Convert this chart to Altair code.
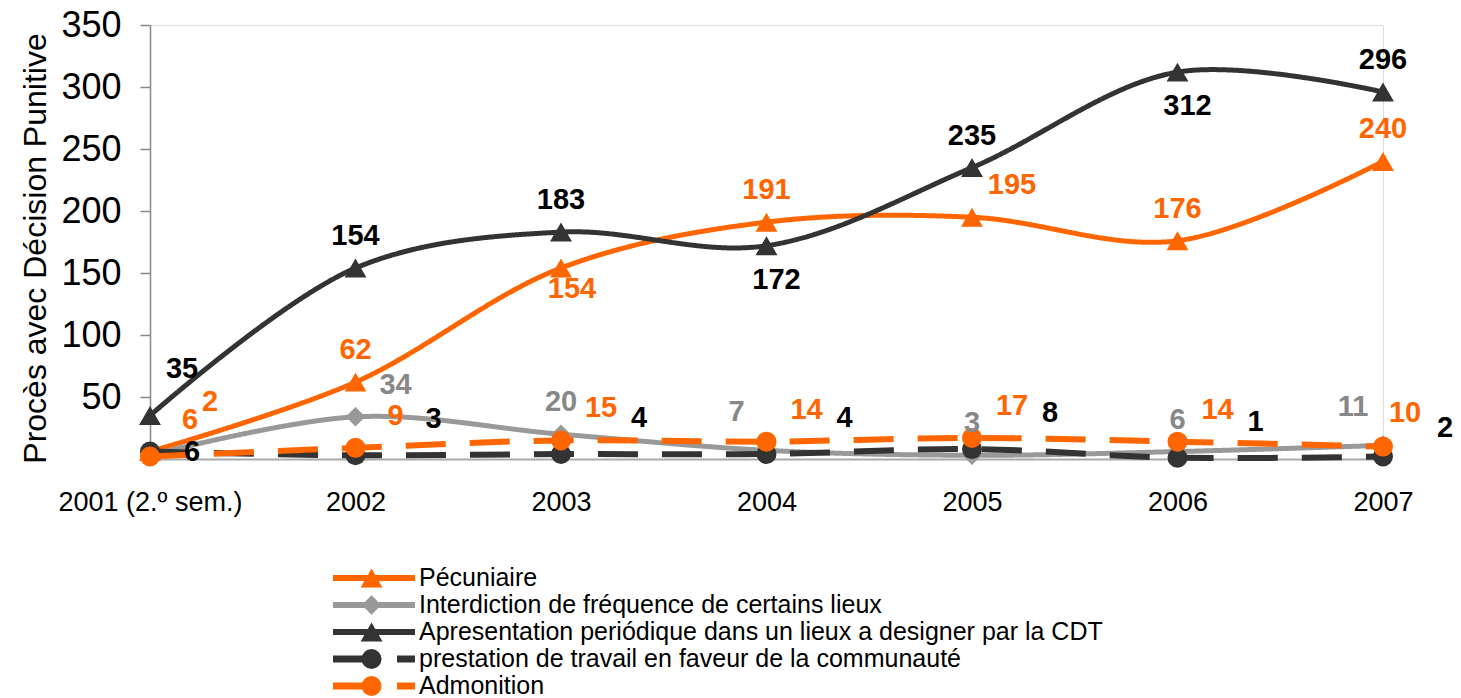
import altair as alt
import pandas as pd

# ---------------- data ----------------
categories = ["2001 (2.º sem.)", "2002", "2003", "2004", "2005", "2006", "2007"]
series_names = [
    "Pécuniaire",
    "Interdiction de fréquence de certains lieux",
    "Apresentation periódique dans un lieux a designer par la CDT",
    "prestation de travail en faveur de la communauté",
    "Admonition",
]
pecuniaire = [6, 62, 154, 191, 195, 176, 240]
interdiction = [3, 34, 20, 7, 3, 6, 11]
apresentation = [35, 154, 183, 172, 235, 312, 296]
prestation = [6, 3, 4, 4, 8, 1, 2]
admonition = [2, 9, 15, 14, 17, 14, 10]

pecuniaire_labels = ["6", "62", "154", "191", "195", "176", "240"]
interdiction_labels = ["", "34", "20", "7", "3", "6", "11"]
apresentation_labels = ["35", "154", "183", "172", "235", "312", "296"]
prestation_labels = ["6", "3", "4", "4", "8", "1", "2"]
admonition_labels = ["2", "9", "15", "14", "17", "14", "10"]

# label placement (categorical)
pecuniaire_pos = ["NE", "N", "SS", "N", "NE", "N", "N"]
interdiction_pos = ["N", "NE", "N", "NW", "N", "N", "NW"]
apresentation_pos = ["NNE", "N", "N", "S", "N", "S", "N"]
prestation_pos = ["E", "FE", "FE", "FE", "FE", "FE", "FE2"]
admonition_pos = ["FNE", "NE", "NE", "NE", "NE", "NE", "NE2"]

# ---------------- styles ----------------
ORANGE = "#FF6600"
GREY = "#999999"
DARK = "#333333"
FONT = "Liberation Sans Narrow, Arial Narrow, Liberation Sans, Arial, sans-serif"

styles = {
    series_names[0]: dict(color=ORANGE, dash=[1, 0], shape="triangle-up", size=480, width=5, text="#FF6600"),
    series_names[1]: dict(color=GREY, dash=[1, 0], shape="diamond", size=380, width=5, text="#888888"),
    series_names[2]: dict(color=DARK, dash=[1, 0], shape="triangle-up", size=480, width=5, text="#000000"),
    series_names[3]: dict(color=DARK, dash=[40, 24], shape="circle", size=400, width=6, text="#000000"),
    series_names[4]: dict(color=ORANGE, dash=[40, 24], shape="circle", size=400, width=6, text="#FF6600"),
}
offsets = {
    "N": (0, -32),
    "S": (10, 34),
    "SS": (11, 21),
    "NE": (40, -32),
    "NE2": (22, -34),
    "NNE": (32, -47),
    "NW": (-30, -38),
    "E": (42, 0),
    "FE": (78, -36),
    "FE2": (62, -29),
    "FNE": (60, -55),
}

rows = []
for name, vals, labs, pos in zip(
    series_names,
    [pecuniaire, interdiction, apresentation, prestation, admonition],
    [pecuniaire_labels, interdiction_labels, apresentation_labels, prestation_labels, admonition_labels],
    [pecuniaire_pos, interdiction_pos, apresentation_pos, prestation_pos, admonition_pos],
):
    for c, v, l, p in zip(categories, vals, labs, pos):
        rows.append(dict(cat=c, series=name, value=v, label=l, pos=p))
df = pd.DataFrame(rows)

x_enc = alt.X(
    "cat:N",
    sort=categories,
    scale=alt.Scale(type="point", padding=0),
    axis=alt.Axis(
        title=None, ticks=False, domainColor="#AAAAAA", domainWidth=2,
        labelFont=FONT, labelFontSize=27, labelColor="#000000", labelPadding=30,
        labelAngle=0, labelLimit=0,
    ),
)
y_enc = alt.Y(
    "value:Q",
    scale=alt.Scale(domain=[0, 350]),
    axis=alt.Axis(
        title="Procès avec Décision Punitive", values=[50, 100, 150, 200, 250, 300, 350],
        grid=False, domainColor="#888888", domainWidth=1.5, tickColor="#888888",
        tickSize=10, tickWidth=1.5, labelFont=FONT, labelFontSize=36, labelColor="#000000",
        labelPadding=19, titleFont="Liberation Sans, Arial, sans-serif", titleFontSize=32,
        titleFontWeight="normal", titleColor="#000000", titleX=-115, titleY=223,
        titleAlign="center", titleBaseline="middle", titleAngle=270,
    ),
)

base = alt.Chart(df)
main_layers = []
for name in series_names:
    st = styles[name]
    sub = base.transform_filter(alt.datum.series == name)
    main_layers.append(
        sub.mark_line(color=st["color"], strokeWidth=st["width"], strokeDash=st["dash"],
                      interpolate="catmull-rom").encode(x=x_enc, y=y_enc)
    )
    main_layers.append(
        sub.mark_point(filled=True, opacity=1, shape=st["shape"], size=st["size"],
                       color=st["color"]).encode(x=x_enc, y=y_enc)
    )

text_color = alt.Color(
    "series:N",
    scale=alt.Scale(domain=series_names, range=[styles[n]["text"] for n in series_names]),
    legend=None,
)
for p, (dx, dy) in offsets.items():
    main_layers.append(
        base.transform_filter((alt.datum.pos == p) & (alt.datum.label != ""))
        .mark_text(dx=dx, dy=dy, font=FONT, fontSize=29, fontWeight="bold", baseline="middle", align="center")
        .encode(x=x_enc, y=y_enc, text="label:N", color=text_color)
    )

main = alt.layer(*main_layers)

# ---------------- legend ----------------
leg_rows = []
for i, name in enumerate(series_names):
    for lx in [0.0, 1.0]:
        leg_rows.append(dict(series=name, row=i, lx=lx))
leg_df = pd.DataFrame(leg_rows)
lx_scale = alt.Scale(domain=[0, 1], range=[183, 265])
lx_enc = alt.X("lx:Q", scale=lx_scale, axis=None)
ly_enc = alt.Y("row:Q", scale=alt.Scale(domain=[0, 4], range=[553, 661]), axis=None)

leg_layers = []
lbase = alt.Chart(leg_df)
for name in series_names:
    st = styles[name]
    sub = lbase.transform_filter(alt.datum.series == name)
    leg_layers.append(
        sub.mark_line(color=st["color"], strokeWidth=st["width"] + 1, strokeDash=st["dash"])
        .encode(x=lx_enc, y=ly_enc)
    )
    leg_layers.append(
        sub.transform_filter(alt.datum.lx == 0)
        .transform_calculate(mx="0.47")
        .mark_point(filled=True, opacity=1, shape=st["shape"], size=st["size"], color=st["color"])
        .encode(x=alt.X("mx:Q", scale=lx_scale, axis=None), y=ly_enc)
    )
leg_layers.append(
    lbase.transform_filter(alt.datum.lx == 1)
    .mark_text(align="left", baseline="middle", dx=4, font=FONT, fontSize=25, color="#000000")
    .encode(x=lx_enc, y=ly_enc, text="series:N")
)
legend = alt.layer(*leg_layers)

chart = (
    alt.layer(main, legend)
    .resolve_scale(x="independent", y="independent", color="independent")
    .properties(
        width=1233, height=434,
        autosize=alt.AutoSizeParams(type="none"),
        padding={"left": 150, "top": 25, "right": 78, "bottom": 239},
    )
    .configure_view(stroke=None)
    .configure(background="white")
)

chart.save("out.html", embed_options={"renderer": "svg", "actions": False})
